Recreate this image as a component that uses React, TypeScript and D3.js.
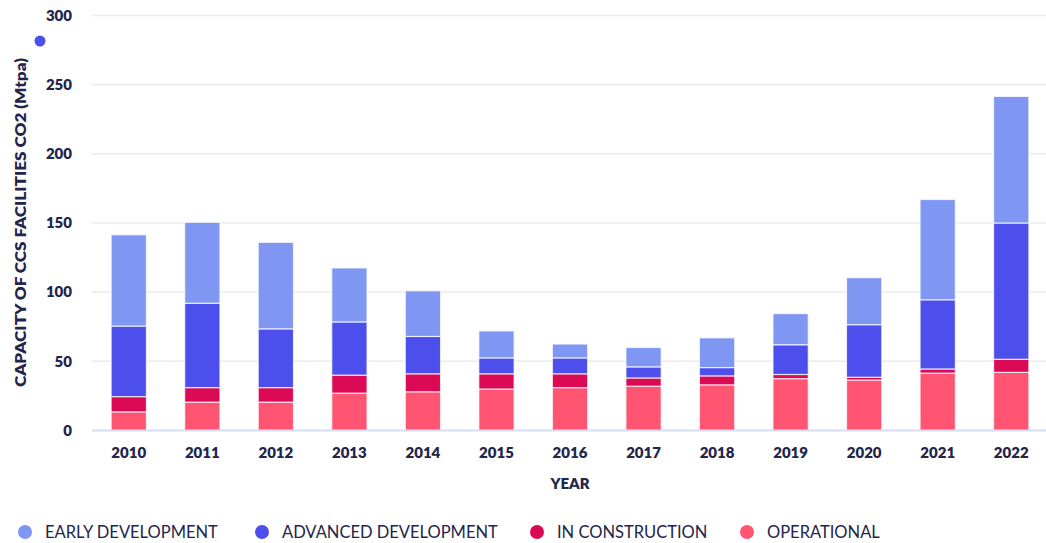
import React from "react";
import * as d3 from "d3";

const years = ["2010","2011","2012","2013","2014","2015","2016","2017","2018","2019","2020","2021","2022"];
const operational = [13.5, 20.5, 20.5, 27, 28, 30, 31, 32, 33, 37.5, 36.5, 41.5, 42];
const inConstruction = [11, 10.5, 10.5, 13, 13, 11, 10, 6, 6.5, 3, 2, 3, 9.5];
const advancedDevelopment = [51, 61, 42.5, 38.5, 27, 11.5, 11.5, 8, 6, 21.5, 38, 50, 98.5];
const earlyDevelopment = [66, 58.5, 62.5, 39, 33, 19.5, 10, 14, 21.5, 22.5, 34, 72.5, 91.5];
const yTicks = [0, 50, 100, 150, 200, 250, 300];

const seriesKeys = ["operational", "inConstruction", "advancedDevelopment", "earlyDevelopment"];
const seriesColors: Record<string, string> = {
  operational: "#ff5572",
  inConstruction: "#dc0a55",
  advancedDevelopment: "#4d4fec",
  earlyDevelopment: "#7f96f2",
};
const legendItems = [
  { key: "earlyDevelopment", label: "EARLY DEVELOPMENT" },
  { key: "advancedDevelopment", label: "ADVANCED DEVELOPMENT" },
  { key: "inConstruction", label: "IN CONSTRUCTION" },
  { key: "operational", label: "OPERATIONAL" },
];

const W = 1046, H = 543;
const FONT = "Lato, 'Open Sans', sans-serif";
const TEXT = "#23254a";

export default function App() {
  const rows = years.map((y, i) => ({
    year: y,
    operational: operational[i],
    inConstruction: inConstruction[i],
    advancedDevelopment: advancedDevelopment[i],
    earlyDevelopment: earlyDevelopment[i],
  }));
  const stacked = d3.stack<any>().keys(seriesKeys)(rows);
  const x = d3.scaleBand<string>().domain(years).range([92, 1048]).paddingInner(0.52).paddingOuter(0.26);
  const y = d3.scaleLinear().domain([0, 300]).range([430.5, 15.5]);
  const legendX = [25, 262, 537, 747];

  return (
    <svg width={W} height={H} style={{ position: "absolute", left: 0, top: 0, background: "#fff" }} fontFamily={FONT}>
      {yTicks.map((t) => (
        <g key={t}>
          {t > 0 && <line x1={92} x2={1046} y1={y(t)} y2={y(t)} stroke="#ebebeb" strokeWidth={1.5} />}
          <text x={72} y={y(t)} dy="0.35em" textAnchor="end" fontSize={15} fontWeight={800} fill={TEXT}>{t}</text>
        </g>
      ))}
      {stacked.map((s) => (
        <g key={s.key} fill={seriesColors[s.key]}>
          {s.map((d, i) => (
            <rect key={i} x={x(years[i])} width={x.bandwidth()} y={y(d[1])} height={Math.max(0, y(d[0]) - y(d[1]))}
              stroke="#ffffff" strokeOpacity={0.75} strokeWidth={1.2} />
          ))}
        </g>
      ))}
      <line x1={92} x2={1046} y1={y(0)} y2={y(0)} stroke="#d6ddee" strokeWidth={2} />
      {years.map((yr) => (
        <text key={yr} x={(x(yr) as number) + x.bandwidth() / 2} y={453} dy="0.35em" textAnchor="middle" fontSize={15} fontWeight={800} fill={TEXT}>{yr}</text>
      ))}
      <text x={570} y={484} dy="0.35em" textAnchor="middle" fontSize={15} fontWeight={800} fill={TEXT}>YEAR</text>
      <text transform={`translate(21,222.5) rotate(-90)`} textAnchor="middle" dy="0.35em" fontSize={15} fontWeight={800} fill={TEXT}
        textLength={329} lengthAdjust="spacingAndGlyphs">CAPACITY OF CCS FACILITIES CO2 (Mtpa)</text>
      <circle cx={40} cy={41} r={5.5} fill="#4d4fec" />
      {legendItems.map((it, i) => (
        <g key={it.key}>
          <circle cx={legendX[i]} cy={532} r={7} fill={seriesColors[it.key]} />
          <text x={legendX[i] + 20} y={532.5} dy="0.35em" fontSize={16.5} fill={TEXT}>{it.label}</text>
        </g>
      ))}
    </svg>
  );
}
